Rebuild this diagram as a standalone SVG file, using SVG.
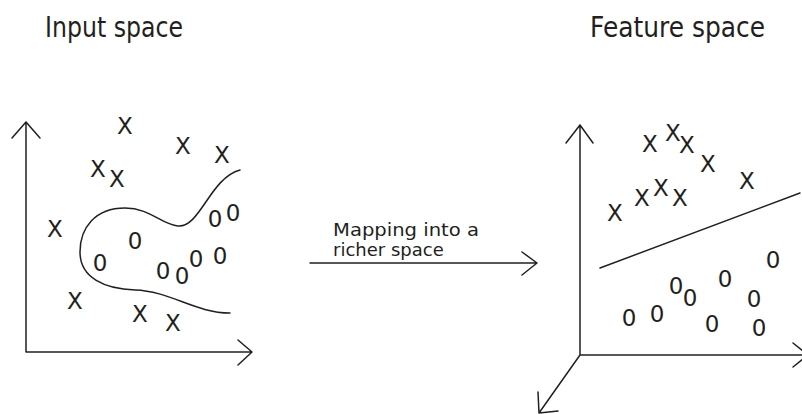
<svg xmlns="http://www.w3.org/2000/svg" width="802" height="414" viewBox="0 0 802 414">
<style>
  .ln{fill:none;stroke:#231f20;stroke-width:1.5;stroke-linecap:round;stroke-linejoin:round}
  .title{font-family:"DejaVu Sans","Liberation Sans",sans-serif;font-size:29px;fill:#231f20}
  .lbl{font-family:"DejaVu Sans","Liberation Sans",sans-serif;font-size:18px;fill:#231f20}
  .pt{font-family:"DejaVu Sans","Liberation Sans",sans-serif;font-size:23px;fill:#231f20;text-anchor:middle}
</style>
<rect width="802" height="414" fill="#ffffff"/>
<g id="title-input"><text class="title" x="45" y="37" textLength="138" lengthAdjust="spacingAndGlyphs">Input space</text></g>
<g id="title-feature"><text class="title" x="590" y="37" textLength="175" lengthAdjust="spacingAndGlyphs">Feature space</text></g>

<g id="input-space">
  <path class="ln" d="M26,352 V122 M12,138 L26,122 L40,138 M26,352 H252 M238,340 L252,352 L238,365"/>
  <path class="ln" d="M240,170 C210,178 200,228 178,226 C162,225 150,208 125,208 C95,208 80,228 80,252 C80,278 105,289 135,290 C170,291 195,313 230,313"/>
  <g class="pt">
    <text x="125" y="133.5">X</text>
    <text x="183" y="153.5">X</text>
    <text x="222" y="162.5">X</text>
    <text x="98" y="176.5">X</text>
    <text x="117" y="186.5">X</text>
    <text x="55" y="236.5">X</text>
    <text x="75" y="308.5">X</text>
    <text x="140" y="321.5">X</text>
    <text x="173" y="330.5">X</text>
    <text x="135" y="248.5">0</text>
    <text x="100" y="270.5">0</text>
    <text x="163" y="278.5">0</text>
    <text x="182" y="283.5">0</text>
    <text x="196" y="266.5">0</text>
    <text x="220" y="263.5">0</text>
    <text x="215" y="226.5">0</text>
    <text x="233" y="220.5">0</text>
  </g>
</g>

<g id="mapping">
  <path class="ln" d="M310,263 H537 M522,252 L537,263 L522,275"/>
  <text class="lbl" x="333" y="236" textLength="146" lengthAdjust="spacingAndGlyphs">Mapping into a</text>
  <text class="lbl" x="333" y="256">richer space</text>
</g>

<g id="feature-space">
  <path class="ln" d="M580,355 V125 M566,143 L580,125 L593,143 M580,355 H808 M793,343 L808,355 L793,367 M580,355 L539,413 M538,392 L539,413 L558,411"/>
  <path class="ln" d="M600,268 L800,193"/>
  <g class="pt">
    <text x="650" y="151.5">X</text>
    <text x="673" y="140.5">X</text>
    <text x="687" y="152.5">X</text>
    <text x="708" y="171.5">X</text>
    <text x="747" y="188.5">X</text>
    <text x="615" y="220.5">X</text>
    <text x="642" y="205.5">X</text>
    <text x="661" y="195.5">X</text>
    <text x="680" y="205.5">X</text>
    <text x="629" y="325.5">0</text>
    <text x="657" y="321.5">0</text>
    <text x="676" y="293.5">0</text>
    <text x="690" y="305.5">0</text>
    <text x="725" y="286.5">0</text>
    <text x="773" y="267.5">0</text>
    <text x="754" y="306.5">0</text>
    <text x="712" y="331.5">0</text>
    <text x="759" y="335.5">0</text>
  </g>
</g>
</svg>
